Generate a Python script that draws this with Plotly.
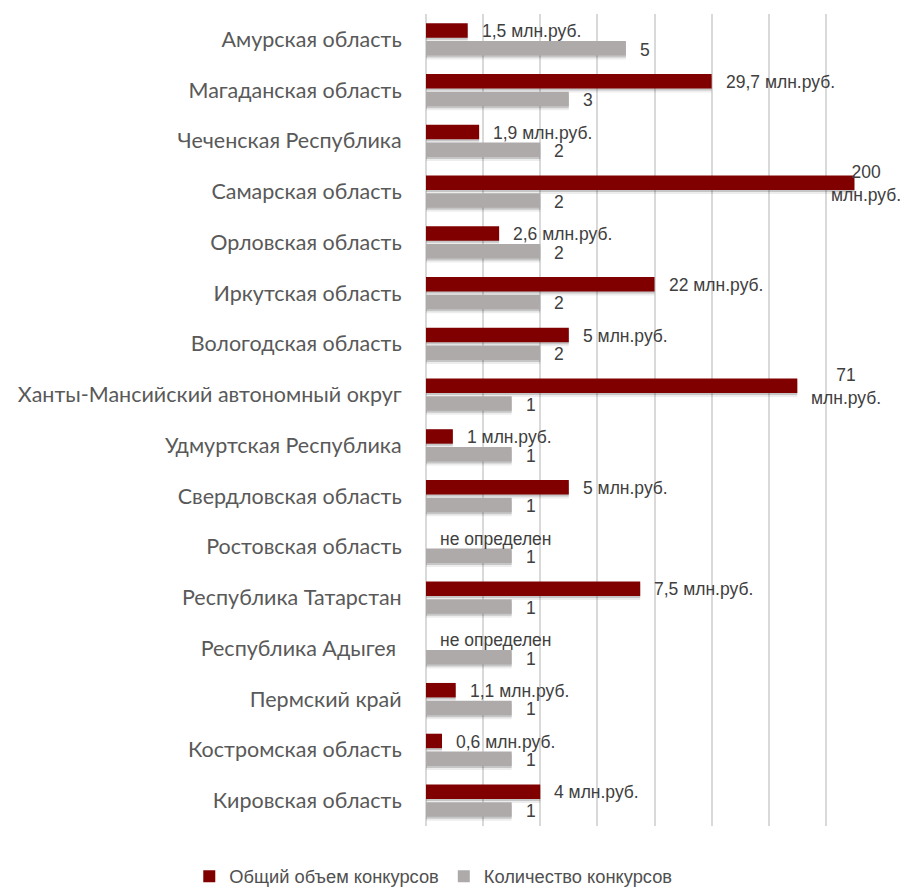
import plotly.graph_objects as go

regions = [
    "Амурская область",
    "Магаданская область",
    "Чеченская Республика",
    "Самарская область",
    "Орловская область",
    "Иркутская область",
    "Вологодская область",
    "Ханты-Мансийский автономный округ",
    "Удмуртская Республика",
    "Свердловская область",
    "Ростовская область",
    "Республика Татарстан",
    "Республика Адыгея ",
    "Пермский край",
    "Костромская область",
    "Кировская область",
]

# bar lengths as drawn in the reference (axis units)
volume_bar = [0.73, 5.0, 0.93, 7.5, 1.28, 4.0, 2.5, 6.5, 0.47, 2.5, 0, 3.75, 0, 0.52, 0.28, 2.0]
volume_labels = [
    "1,5 млн.руб.", "29,7 млн.руб.", "1,9 млн.руб.", "200<br>млн.руб.",
    "2,6 млн.руб.", "22 млн.руб.", "5 млн.руб.", "71<br>млн.руб.",
    "1 млн.руб.", "5 млн.руб.", "не определен", "7,5 млн.руб.",
    "не определен", "1,1 млн.руб.", "0,6 млн.руб.", "4 млн.руб.",
]
count_bar = [3.5, 2.5, 2, 2, 2, 2, 2, 1.5, 1.5, 1.5, 1.5, 1.5, 1.5, 1.5, 1.5, 1.5]
count_labels = [5, 3, 2, 2, 2, 2, 2, 1, 1, 1, 1, 1, 1, 1, 1, 1]

series_names = ["Общий объем конкурсов", "Количество конкурсов"]
RED = "#800000"
GRAY = "#AEAAAA"
LABEL_COLOR = "#404040"
LABEL_FONT = "Liberation Sans, Arial, sans-serif"
X_MAX = 8

BAR_W = 0.285
GAP = 0.067
RED_OFF = -(BAR_W + GAP / 2)
GRAY_OFF = GAP / 2
BAND_PX = 50.77

fig = go.Figure()

# soft drop shadows (drawn first, beneath the bars)
for shift_px, alpha in [(2.0, 0.16), (4.0, 0.07)]:
    dy = shift_px / BAND_PX
    for vals, off in [(volume_bar, RED_OFF), (count_bar, GRAY_OFF)]:
        fig.add_trace(go.Bar(y=regions, x=vals, orientation="h", width=BAR_W, offset=off + dy,
                             marker=dict(color=f"rgba(0,0,0,{alpha})", line=dict(width=0)),
                             showlegend=False, hoverinfo="skip"))

fig.add_trace(go.Bar(y=regions, x=volume_bar, orientation="h", name=series_names[0],
                     width=BAR_W, offset=RED_OFF,
                     marker=dict(color=RED, line=dict(width=0)), hoverinfo="skip"))
fig.add_trace(go.Bar(y=regions, x=count_bar, orientation="h", name=series_names[1],
                     width=BAR_W, offset=GRAY_OFF,
                     marker=dict(color=GRAY, line=dict(width=0)), hoverinfo="skip"))

annotations = []
lab_font = dict(family=LABEL_FONT, size=17.5, color=LABEL_COLOR)
for i, (v, t) in enumerate(zip(volume_bar, volume_labels)):
    if v > X_MAX - 1:
        annotations.append(dict(xref="paper", x=1, y=i - 0.165, yref="y", text=t,
                                showarrow=False, xanchor="right", xshift=20, align="center",
                                font=lab_font))
    else:
        annotations.append(dict(x=v, y=i - 0.165, yref="y", text=t, showarrow=False,
                                xanchor="left", xshift=12, align="center", font=lab_font))
for i, (v, t) in enumerate(zip(count_bar, count_labels)):
    annotations.append(dict(x=v, y=i + 0.2, yref="y", text=str(t), showarrow=False,
                            xanchor="left", xshift=12, font=lab_font))

fig.update_layout(
    width=905, height=887,
    margin=dict(l=426, r=22, t=14, b=61, autoexpand=False),
    paper_bgcolor="white", plot_bgcolor="white",
    barmode="overlay",
    annotations=annotations,
    showlegend=True,
    legend=dict(orientation="h", x=-0.518, xanchor="left", y=-0.062, yanchor="middle",
                font=dict(family=LABEL_FONT, size=18.3, color="#505050"),
                traceorder="normal", itemwidth=30, bgcolor="rgba(0,0,0,0)"),
    xaxis=dict(range=[0, X_MAX], dtick=1, showgrid=True, gridcolor="#D9D9D9", gridwidth=1.5,
               zeroline=True, zerolinecolor="#D9D9D9", zerolinewidth=1.5,
               showticklabels=False, fixedrange=True),
    yaxis=dict(autorange="reversed", showgrid=False, ticks="outside", ticklen=19,
               tickcolor="rgba(0,0,0,0)", showline=False,
               tickfont=dict(family="Lato, Carlito, Calibri, sans-serif", size=21.5, color="#595959"),
               fixedrange=True),
)

fig.write_html("out.html", config={"displayModeBar": False},
               post_script="document.body.style.margin='0';document.body.style.overflow='hidden';")
